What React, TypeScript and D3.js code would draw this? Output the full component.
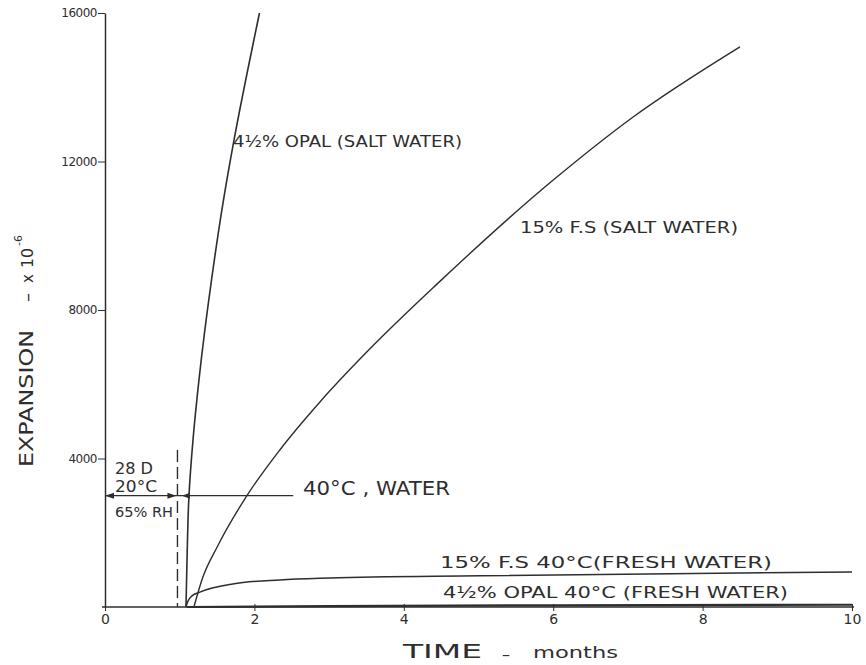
import { useEffect, useRef } from 'react'
import * as d3 from 'd3'

const W = 866
const H = 665

// axis ticks
const timeTicks = [0, 2, 4, 6, 8, 10]
const expansionTicks = [4000, 8000, 12000, 16000]

// 4½% opal, salt water
const opalSaltTime = [1.084, 1.098, 1.124, 1.178, 1.258, 1.426, 1.586, 1.72, 2.068]
const opalSaltExp = [0, 1270, 2990, 4500, 6120, 8810, 10960, 12500, 16000]

// 15% F.S, salt water
const fsSaltTime = [1.19, 1.3, 1.51, 1.9, 2.34, 2.88, 3.5, 4.44, 6.0, 7.07, 8.5]
const fsSaltExp = [0, 750, 1650, 3000, 4230, 5530, 6860, 8690, 11500, 13200, 15090]

// 15% F.S, 40°C fresh water
const fsFreshTime = [1.084, 1.111, 1.165, 1.27, 1.71, 2.34, 3.01, 5.02, 10.0]
const fsFreshExp = [0, 160, 300, 400, 620, 730, 780, 840, 945]

// 4½% opal, 40°C fresh water
const opalFreshTime = [1.1, 3, 6, 10]
const opalFreshExp = [0, 25, 45, 60]

// curing regime annotation
const cureEnd = 0.97 // 28 days
const cureLevel = 3000
const cureMarkTop = 4230
const waterLineEnd = 2.52
const waterArrowTip = 1.03

const ink = '#2e2e2e'
const font = 'DejaVu Sans'

function zip(t: number[], v: number[]) {
  return t.map((d, i) => ({ t: d, v: v[i] }))
}

const series = [
  { name: 'opalSalt', pts: zip(opalSaltTime, opalSaltExp), w: 1.6, curve: d3.curveMonotoneY },
  { name: 'fsSalt', pts: zip(fsSaltTime, fsSaltExp), w: 1.4, curve: d3.curveMonotoneX },
  { name: 'fsFresh', pts: zip(fsFreshTime, fsFreshExp), w: 1.5, curve: d3.curveMonotoneX },
  { name: 'opalFresh', pts: zip(opalFreshTime, opalFreshExp), w: 2.2, curve: d3.curveMonotoneX },
]

export default function App() {
  const xAxisRef = useRef<SVGGElement>(null)
  const yAxisRef = useRef<SVGGElement>(null)

  const x = d3.scaleLinear().domain([0, 10]).range([105, 852])
  const y = d3.scaleLinear().domain([0, 16000]).range([607, 13])

  useEffect(() => {
    if (!xAxisRef.current || !yAxisRef.current) return

    const xa = d3.select(xAxisRef.current)
    xa.selectAll('*').remove()
    xa.call(
      d3.axisBottom(x).tickValues(timeTicks).tickSizeInner(4).tickSizeOuter(0).tickFormat(d3.format('d'))
    )
    xa.select('.domain').attr('stroke', ink).attr('stroke-width', 1.6).attr('d', `M${x(0) - 3},0H${x(10) + 2}`)
    xa.selectAll('.tick line').attr('stroke', ink).attr('y1', -3).attr('y2', 4)
    xa.selectAll('.tick text')
      .attr('fill', ink)
      .attr('y', 7)
      .style('font-family', font)
      .style('font-size', '14px')

    const ya = d3.select(yAxisRef.current)
    ya.selectAll('*').remove()
    ya.call(
      d3.axisLeft(y).tickValues(expansionTicks).tickSizeInner(7).tickSizeOuter(0).tickPadding(1).tickFormat(d3.format('d'))
    )
    ya.select('.domain').attr('stroke', ink).attr('stroke-width', 1.5)
    ya.selectAll('.tick line').attr('stroke', ink)
    ya.selectAll('.tick text')
      .attr('fill', ink)
      .style('font-family', font)
      .style('font-size', '12px')
      .style('letter-spacing', '-0.5px')
  }, [])

  const yc = y(cureLevel)

  return (
    <svg width={W} height={H} style={{ position: 'absolute', left: 0, top: 0, background: '#fff' }}>
      <rect width={W} height={H} fill="#fff" />
      <g ref={xAxisRef} transform={`translate(0,${y(0)})`} />
      <g ref={yAxisRef} transform={`translate(${x(0)},0)`} />

      {series.map(s => {
        const line = d3
          .line<{ t: number; v: number }>()
          .x(d => x(d.t))
          .y(d => y(d.v))
          .curve(s.curve)
        return <path key={s.name} d={line(s.pts) || ''} fill="none" stroke={ink} strokeWidth={s.w} />
      })}

      {/* curing annotation */}
      <line x1={x(cureEnd)} x2={x(cureEnd)} y1={y(cureMarkTop)} y2={y(0)} stroke={ink} strokeWidth={1.4} strokeDasharray="12,5" />
      <line x1={x(0)} x2={x(waterLineEnd)} y1={yc} y2={yc} stroke={ink} strokeWidth={1.4} />
      <path d={`M${x(0)},${yc}l9,-3v6z`} fill={ink} />
      <path d={`M${x(cureEnd) - 1},${yc}l-9,-3v6z`} fill={ink} />
      <path d={`M${x(waterArrowTip)},${yc}l8,-3v6z`} fill={ink} />

      <g fill={ink} fontFamily={font}>
        <text x={115} y={474} fontSize={15} textLength={38} lengthAdjust="spacingAndGlyphs">28 D</text>
        <text x={115} y={492} fontSize={15} textLength={42} lengthAdjust="spacingAndGlyphs">20°C</text>
        <text x={115} y={517} fontSize={14} textLength={58} lengthAdjust="spacingAndGlyphs">65% RH</text>
        <text x={303} y={495} fontSize={19} textLength={147} lengthAdjust="spacingAndGlyphs">40°C , WATER</text>

        <text x={233} y={147} fontSize={15} textLength={229} lengthAdjust="spacingAndGlyphs">4½% OPAL (SALT WATER)</text>
        <text x={520} y={233} fontSize={15} textLength={218} lengthAdjust="spacingAndGlyphs">15% F.S  (SALT WATER)</text>
        <text x={440} y={568} fontSize={16} textLength={332} lengthAdjust="spacingAndGlyphs">15% F.S  40°C(FRESH WATER)</text>
        <text x={443} y={598} fontSize={16} textLength={345} lengthAdjust="spacingAndGlyphs">4½% OPAL 40°C (FRESH WATER)</text>

        {/* x title */}
        <text x={403} y={658} fontSize={20} textLength={79} lengthAdjust="spacingAndGlyphs">TIME</text>
        <text x={502} y={660} fontSize={16}>–</text>
        <text x={533} y={658} fontSize={16} textLength={85} lengthAdjust="spacingAndGlyphs">months</text>

        {/* y title */}
        <g transform="translate(33,467) rotate(-90)">
          <text x={0} y={0} fontSize={20} textLength={137} lengthAdjust="spacingAndGlyphs">EXPANSION</text>
          <text x={165} y={0} fontSize={18}>–</text>
          <text x={184} y={0} fontSize={15}>x</text>
          <text x={199} y={0} fontSize={15} textLength={20} lengthAdjust="spacingAndGlyphs">10</text>
          <text x={221} y={-11} fontSize={11}>-6</text>
        </g>
      </g>
    </svg>
  )
}
